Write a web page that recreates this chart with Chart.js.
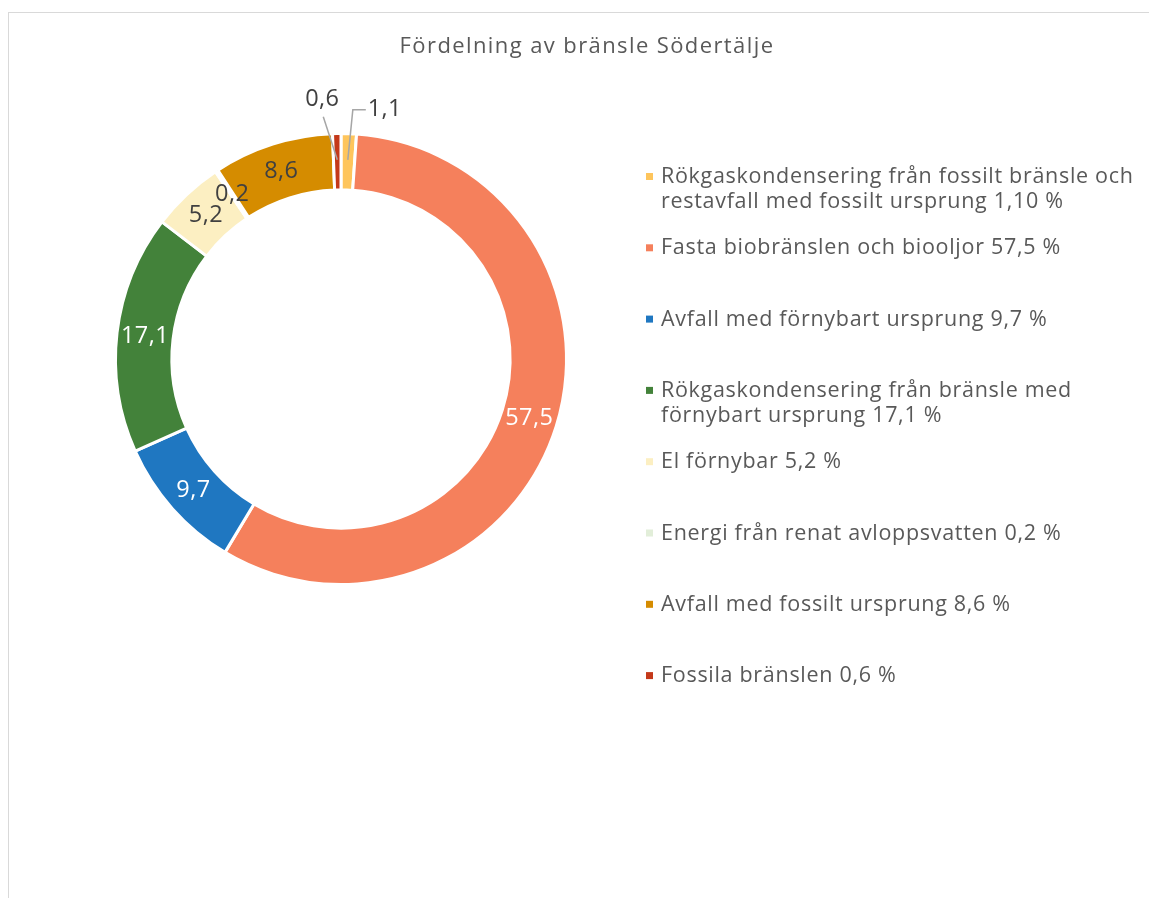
<!DOCTYPE html>
<html><head><meta charset="utf-8">
<script src="https://cdn.jsdelivr.net/npm/chart.js@4.4.1/dist/chart.umd.min.js"></script>
<style>
html,body{margin:0;padding:0;width:1149px;height:898px;overflow:hidden;background:#fff}
#frame{position:absolute;left:8px;top:12px;width:1180px;height:900px;border:1px solid #d9d9d9;box-sizing:border-box}
#wrap{position:absolute;left:0;top:0;width:1149px;height:898px}
</style></head><body>
<div id="frame"></div>
<div id="wrap"><canvas id="c"></canvas></div>
<script>
const chartTitle = "Fördelning av bränsle Södertälje";
const categories = [
  "Rökgaskondensering från fossilt bränsle och restavfall med fossilt ursprung",
  "Fasta biobränslen och biooljor",
  "Avfall med förnybart ursprung",
  "Rökgaskondensering från bränsle med förnybart ursprung",
  "El förnybar",
  "Energi från renat avloppsvatten",
  "Avfall med fossilt ursprung",
  "Fossila bränslen"
];
const values = [1.1, 57.5, 9.7, 17.1, 5.2, 0.2, 8.6, 0.6];
const legendLabels = [
  ["Rökgaskondensering från fossilt bränsle och", "restavfall med fossilt ursprung 1,10 %"],
  ["Fasta biobränslen och biooljor 57,5 %"],
  ["Avfall med förnybart ursprung 9,7 %"],
  ["Rökgaskondensering från bränsle med", "förnybart ursprung 17,1 %"],
  ["El förnybar 5,2 %"],
  ["Energi från renat avloppsvatten 0,2 %"],
  ["Avfall med fossilt ursprung 8,6 %"],
  ["Fossila bränslen 0,6 %"]
];
const colors = ["#FEC55C", "#F5805C", "#1F77C1", "#43823A", "#FCEFC2", "#E2EED9", "#D58C00", "#C4391A"];
const labelColors = ["#404040", "#ffffff", "#ffffff", "#ffffff", "#404040", "#404040", "#404040", "#404040"];

// outside label placement (offsets from the segment centroid), style only
const outside = {
  0: {label: [37, -52], path: [[0, -2], [5, -52], [18, -52]]},
  7: {label: [-15, -62], path: [[0, -2], [-14, -45]]}
};
const FONT = '"Open Sans", sans-serif';
const TEXT = '#595959';

const overlay = {
  id: 'overlay',
  afterDatasetsDraw(chart) {
    const ctx = chart.ctx;
    const meta = chart.getDatasetMeta(0);
    ctx.save();
    // title
    ctx.fillStyle = TEXT;
    ctx.font = '22px ' + FONT;
    ctx.letterSpacing = '1.4px';
    ctx.textAlign = 'center';
    ctx.textBaseline = 'middle';
    ctx.fillText(chartTitle, 587, 47);
    // data labels
    ctx.font = '23.5px ' + FONT;
    ctx.letterSpacing = '0.4px';
    meta.data.forEach((arc, i) => {
      const p = arc.getProps(['x', 'y', 'startAngle', 'endAngle', 'innerRadius', 'outerRadius'], true);
      const mid = (p.startAngle + p.endAngle) / 2;
      const r = (p.innerRadius + p.outerRadius) / 2;
      const cx = p.x + Math.cos(mid) * r, cy = p.y + Math.sin(mid) * r;
      const txt = String(values[i]).replace('.', ',');
      let lx = cx, ly = cy;
      const o = outside[i];
      if (o) {
        ctx.strokeStyle = '#A6A6A6';
        ctx.lineWidth = 1.5;
        ctx.beginPath();
        o.path.forEach((pt, k) => {
          if (k === 0) ctx.moveTo(cx + pt[0], cy + pt[1]); else ctx.lineTo(cx + pt[0], cy + pt[1]);
        });
        ctx.stroke();
        lx = cx + o.label[0]; ly = cy + o.label[1];
      }
      ctx.fillStyle = labelColors[i];
      ctx.fillText(txt, lx, ly);
    });
    // legend
    ctx.textAlign = 'left';
    ctx.font = '21.5px ' + FONT;
    ctx.letterSpacing = '0.7px';
    legendLabels.forEach((lines, i) => {
      const y0 = 177 + i * 71.3;
      ctx.fillStyle = colors[i];
      ctx.fillRect(646, y0 - 4, 7, 7);
      ctx.fillStyle = TEXT;
      lines.forEach((ln, j) => ctx.fillText(ln, 661, y0 + j * 24.5));
    });
    ctx.restore();
  }
};

new Chart(document.getElementById('c'), {
  type: 'doughnut',
  data: {
    labels: categories,
    datasets: [{
      data: values,
      backgroundColor: colors,
      borderColor: '#ffffff',
      borderWidth: 3,
      hoverOffset: 0
    }]
  },
  options: {
    responsive: true,
    maintainAspectRatio: false,
    animation: false,
    cutout: '75%',
    layout: {padding: {left: 114, right: 581, top: 132, bottom: 312}},
    plugins: {legend: {display: false}, tooltip: {enabled: false}, title: {display: false}}
  },
  plugins: [overlay]
});
</script>
</body></html>
